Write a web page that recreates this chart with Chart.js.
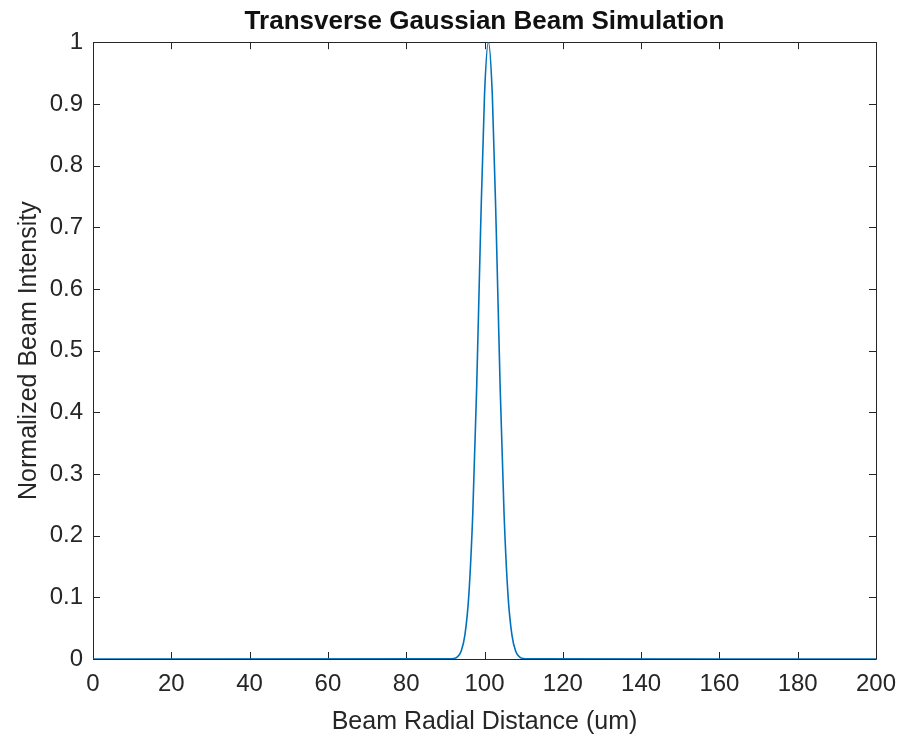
<!DOCTYPE html>
<html>
<head>
<meta charset="utf-8">
<script src="https://cdn.jsdelivr.net/npm/chart.js@4"></script>
<style>
  html, body { margin: 0; padding: 0; background: #fff; }
  canvas { display: block; }
</style>
</head>
<body>
<canvas id="beamChart" width="902" height="737"></canvas>
<script>
// beam data
const radialDistance = [0, 91, 92, 93, 94, 95, 96, 97, 98, 99, 100, 101, 102, 103, 104, 105, 106, 107, 108, 109, 110, 111, 200];
const beamIntensity = [0, 0.0002, 0.0007, 0.003, 0.012, 0.039, 0.104, 0.235, 0.44, 0.696, 0.914, 1, 0.914, 0.696, 0.44, 0.235, 0.104, 0.039, 0.012, 0.003, 0.0007, 0.0002, 0];

const xTicks = [0, 20, 40, 60, 80, 100, 120, 140, 160, 180, 200];
const yTicks = [0, 0.1, 0.2, 0.3, 0.4, 0.5, 0.6, 0.7, 0.8, 0.9, 1];

const axisColor = "#262626";
const fontFamily = "'Liberation Sans', Arial, sans-serif";

const points = radialDistance.map((x, i) => ({ x: x, y: beamIntensity[i] }));

// box + inward ticks, matlab style
const boxTicks = {
  id: "boxTicks",
  beforeDatasetsDraw(chart) {
    const ctx = chart.ctx;
    const a = chart.chartArea;
    const xs = chart.scales.x;
    const ys = chart.scales.y;
    const len = 7;
    ctx.save();
    ctx.strokeStyle = axisColor;
    ctx.lineWidth = 1;
    ctx.beginPath();
    ctx.rect(Math.round(a.left) + 0.5, Math.round(a.top) + 0.5, Math.round(a.right - a.left), Math.round(a.bottom - a.top));
    xTicks.forEach((v) => {
      const px = Math.round(xs.getPixelForValue(v)) + 0.5;
      ctx.moveTo(px, a.bottom);
      ctx.lineTo(px, a.bottom - len);
      ctx.moveTo(px, a.top);
      ctx.lineTo(px, a.top + len);
    });
    yTicks.forEach((v) => {
      const py = Math.round(ys.getPixelForValue(v)) + 0.5;
      ctx.moveTo(a.left, py);
      ctx.lineTo(a.left + len, py);
      ctx.moveTo(a.right, py);
      ctx.lineTo(a.right - len, py);
    });
    ctx.stroke();
    ctx.restore();
  },
};

const ctx = document.getElementById("beamChart").getContext("2d");
const beamChart = new Chart(ctx, {
  type: "line",
  data: {
    datasets: [
      {
        data: points,
        borderColor: "#0072BD",
        borderWidth: 1.6,
        pointRadius: 0,
        tension: 0.2,
        cubicInterpolationMode: "monotone",
        fill: false,
      },
    ],
  },
  options: {
    responsive: false,
    animation: false,
    layout: { padding: { left: 0, right: 26, top: 0, bottom: 0 } },
    plugins: {
      legend: { display: false },
      tooltip: { enabled: false },
      title: {
        display: true,
        fullSize: false,
        text: "Transverse Gaussian Beam Simulation",
        color: "#111",
        font: { family: fontFamily, size: 26, weight: "bold", lineHeight: 1.2 },
        padding: { top: 6, bottom: 5 },
      },
    },
    scales: {
      x: {
        type: "linear",
        min: 0,
        max: 200,
        afterBuildTicks: (scale) => {
          scale.ticks = xTicks.map((v) => ({ value: v }));
        },
        afterFit: (scale) => {
          scale.height = 78;
          scale.paddingLeft = 0;
          scale.paddingRight = 0;
        },
        grid: { display: false, drawTicks: false },
        border: { display: false },
        ticks: {
          color: axisColor,
          padding: 11,
          maxRotation: 0,
          font: { family: fontFamily, size: 24 },
        },
        title: {
          display: true,
          text: "Beam Radial Distance (um)",
          color: axisColor,
          font: { family: fontFamily, size: 25 },
          padding: { top: 8, bottom: 0 },
        },
      },
      y: {
        type: "linear",
        min: 0,
        max: 1,
        afterBuildTicks: (scale) => {
          scale.ticks = yTicks.map((v) => ({ value: v }));
        },
        afterFit: (scale) => {
          scale.width = 93;
          scale.paddingTop = 0;
          scale.paddingBottom = 0;
        },
        grid: { display: false, drawTicks: false },
        border: { display: false },
        ticks: {
          color: axisColor,
          padding: 10,
          font: { family: fontFamily, size: 24 },
          callback: (v) => String(Math.round(v * 10) / 10),
        },
        title: {
          display: true,
          text: "Normalized Beam Intensity",
          color: axisColor,
          font: { family: fontFamily, size: 25 },
          padding: { top: 14, bottom: 0 },
        },
      },
    },
  },
  plugins: [boxTicks],
});
</script>
</body>
</html>
